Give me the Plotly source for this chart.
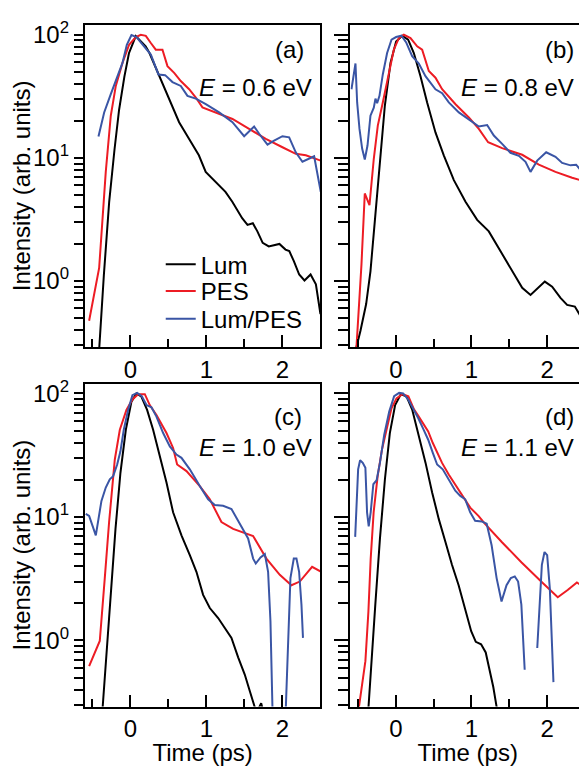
import plotly.graph_objects as go

# ---------------- data (time in ps, intensity arb. units) ----------------
# Panel (a)  E = 0.6 eV
a_lum_t = [-0.43, -0.41, -0.35, -0.28, -0.21, -0.15, -0.08, -0.02, 0.07, 0.20, 0.25, 0.38, 0.51, 0.64, 0.77,
           0.90, 0.99, 1.12, 1.25, 1.34, 1.47, 1.54, 1.61, 1.67, 1.74, 1.82, 1.96, 2.04, 2.09, 2.15, 2.22,
           2.29, 2.37, 2.44, 2.50]
a_lum_i = [0.2, 0.29, 1.12, 4.4, 11.7, 24.5, 45.7, 70.8, 97.7, 80.5, 71.1, 46.1, 30.0, 19.5, 14.3,
           10.5, 7.7, 6.4, 5.3, 4.4, 3.24, 2.86, 2.95, 2.53, 2.04, 1.91, 2.0, 1.80, 1.75, 1.45, 1.13,
           1.01, 1.13, 0.94, 0.54]
a_pes_t = [-0.544, -0.412, -0.325, -0.259, -0.193, -0.105, -0.018, 0.070, 0.136, 0.202, 0.268, 0.333, 0.421,
           0.487, 0.575, 0.662, 0.772, 0.860, 0.947, 1.123, 1.342, 1.561, 1.781, 2.0, 2.175, 2.307, 2.504]
a_pes_i = [0.476, 1.28, 7.7, 22.0, 38.4, 59.1, 83.0, 95.8, 100.0, 98.0, 85.7, 75.7, 75.7,
           55.6, 49.1, 42.1, 36.1, 30.9, 25.7, 23.4, 20.7, 17.2, 14.3, 12.2, 10.8, 10.5, 9.5]
a_rat_t = [-0.421, -0.346, -0.259, -0.171, -0.105, -0.048, 0.013, 0.079, 0.158, 0.268, 0.368, 0.456, 0.553,
           0.662, 0.750, 0.860, 0.991, 1.167, 1.342, 1.430, 1.496, 1.570, 1.627, 1.693, 1.803, 1.890, 2.0,
           2.088, 2.175, 2.263, 2.351, 2.417, 2.504]
a_rat_i = [14.9, 23.4, 32.9, 46.1, 59.1, 83.0, 99.4, 95.8, 83.0, 69.0, 47.6, 47.0, 41.3,
           38.4, 31.9, 30.3, 27.3, 23.4, 19.5, 16.6, 15.0, 16.6, 18.0, 15.7, 12.8, 13.8, 15.0,
           14.7, 11.1, 9.3, 9.8, 10.3, 5.3]

# Panel (b)  E = 0.8 eV
b_lum_t = [-0.533, -0.467, -0.392, -0.335, -0.278, -0.216, -0.145, -0.070, 0.004, 0.084, 0.163, 0.238, 0.326,
           0.414, 0.524, 0.634, 0.767, 0.921, 1.075, 1.229, 1.361, 1.515, 1.670, 1.780, 1.881, 1.969, 2.066,
           2.176, 2.264, 2.366, 2.441, 2.511]
b_lum_i = [0.27, 0.395, 0.65, 1.2, 3.04, 8.7, 26.5, 59.1, 88.3, 98.2, 91.2, 71.1, 46.1,
           28.2, 16.1, 10.5, 6.6, 4.4, 3.14, 2.53, 1.85, 1.28, 0.88, 0.77, 0.88, 0.99, 0.90,
           0.73, 0.64, 0.62, 0.52, 0.35]
b_pes_t = [-0.520, -0.454, -0.410, -0.348, -0.291, -0.238, -0.172, -0.093, -0.026, 0.040, 0.106, 0.194, 0.282,
           0.348, 0.436, 0.524, 0.612, 0.789, 0.965, 1.097, 1.220, 1.405, 1.670, 1.890, 2.110, 2.330, 2.511]
b_pes_i = [0.29, 1.36, 5.14, 4.14, 9.84, 18.3, 28.2, 49.1, 75.7, 94.0, 100.0, 94.0, 80.5,
           75.7, 50.7, 44.8, 36.1, 27.3, 21.3, 17.2, 13.4, 12.0, 10.6, 8.8, 7.7, 6.9, 6.4]
b_rat_t = [-0.586, -0.559, -0.533, -0.511, -0.480, -0.445, -0.410, -0.374, -0.335, -0.291, -0.269, -0.247,
           -0.216, -0.172, -0.115, -0.057, 0.004, 0.075, 0.137, 0.216, 0.304, 0.392, 0.524, 0.612, 0.700,
           0.833, 0.987, 1.097, 1.207, 1.295, 1.405, 1.515, 1.626, 1.714, 1.780, 1.868, 1.987, 2.110, 2.198,
           2.308, 2.383, 2.463, 2.511]
b_rat_i = [36.1, 44.8, 58.4, 28.2, 17.2, 11.9, 9.7, 12.6, 22.0, 25.6, 30.3, 27.8,
           31.9, 47.6, 71.1, 91.2, 95.8, 98.2, 86.7, 67.0, 58.4, 46.1, 36.1, 33.5, 28.2,
           23.4, 20.0, 18.0, 18.5, 15.2, 13.0, 11.0, 10.4, 9.3, 7.7, 9.5, 11.1, 10.2, 9.1,
           8.7, 8.8, 7.7, 6.2]

# Panel (c)  E = 1.0 eV
c_lum_t = [-0.382, -0.325, -0.263, -0.197, -0.132, -0.061, 0.013, 0.079, 0.145, 0.219, 0.298, 0.386, 0.474,
           0.561, 0.671, 0.781, 0.868, 0.956, 1.044, 1.154, 1.263, 1.329, 1.417, 1.504, 1.570, 1.614, 1.658,
           1.72, 1.80]
c_lum_i = [0.21, 0.64, 2.2, 8.0, 22.8, 50.8, 85.8, 100.0, 94.0, 73.5, 50.8, 31.0, 19.0,
           10.9, 7.1, 4.9, 3.6, 2.34, 1.83, 1.52, 1.19, 1.05, 0.73, 0.53, 0.39, 0.31, 0.26,
           0.31, 0.2]
c_pes_t = [-0.544, -0.404, -0.338, -0.281, -0.206, -0.140, -0.053, 0.026, 0.101, 0.189, 0.254, 0.342, 0.474,
           0.561, 0.614, 0.737, 0.912, 1.044, 1.197, 1.351, 1.614, 1.789, 1.965, 2.118, 2.228, 2.39, 2.51]
c_pes_i = [0.62, 0.99, 3.2, 9.1, 29.2, 50.8, 73.5, 89.5, 98.6, 98.6, 80.5, 67.0, 47.8,
           36.2, 26.6, 23.5, 17.8, 13.9, 9.1, 8.0, 7.0, 4.6, 3.4, 2.8, 3.0, 3.95, 3.6]
c_rat_t = [-0.588, -0.544, -0.500, -0.456, -0.421, -0.382, -0.325, -0.272, -0.228, -0.175, -0.132, -0.088,
           -0.031, 0.026, 0.088, 0.149, 0.211, 0.276, 0.342, 0.430, 0.518, 0.605, 0.671, 0.781, 0.912,
           1.022, 1.110, 1.219, 1.329, 1.439, 1.548, 1.614, 1.649, 1.711, 1.768, 1.811, 1.842, 1.868,
           1.886, 2.018, 2.044, 2.075, 2.105, 2.149, 2.184, 2.219, 2.25, 2.27]
c_rat_i = [10.6, 10.2, 8.5, 7.1, 9.6, 13.5, 17.3, 20.2, 21.4, 26.6, 34.0, 50.8,
           73.5, 96.9, 101.0, 95.0, 80.5, 77.2, 65.0, 47.8, 37.3, 32.0, 30.1, 24.3, 17.8,
           13.9, 12.5, 12.3, 11.6, 8.8, 6.7, 4.6, 4.2, 4.7, 5.0, 3.6, 1.43, 0.29,
           0.1, 0.1, 0.29, 1.05, 3.2, 4.6, 4.6, 3.6, 1.95, 1.05]

# Panel (d)  E = 1.1 eV
d_lum_t = [-0.376, -0.328, -0.271, -0.210, -0.144, -0.079, -0.009, 0.066, 0.140, 0.218, 0.306, 0.393, 0.480,
           0.568, 0.655, 0.742, 0.830, 0.917, 0.996, 1.057, 1.127, 1.188, 1.245, 1.288, 1.332, 1.354]
d_lum_i = [0.21, 0.64, 1.95, 6.65, 20.2, 47.8, 80.5, 98.6, 95.0, 73.5, 44.9, 27.4, 15.8,
           9.6, 6.3, 4.1, 2.8, 1.83, 1.19, 0.975, 0.93, 0.80, 0.57, 0.42, 0.29, 0.2]
d_pes_t = [-0.524, -0.489, -0.445, -0.402, -0.362, -0.332, -0.293, -0.240, -0.183, -0.122, -0.057, 0.009,
           0.087, 0.166, 0.240, 0.297, 0.362, 0.428, 0.489, 0.546, 0.611, 0.699, 0.808, 0.895, 0.983, 1.092,
           1.179, 1.397, 1.659, 1.921, 2.140, 2.271, 2.393, 2.493]
d_pes_i = [0.2, 0.29, 0.44, 0.68, 1.72, 4.6, 10.9, 21.4, 35.1, 52.4, 75.7, 91.2,
           98.6, 95.0, 74.3, 65.8, 57.4, 49.2, 39.7, 33.0, 27.4, 22.1, 17.3, 14.4, 11.9, 10.2,
           8.8, 6.3, 4.3, 3.0, 2.24, 2.56, 2.95, 2.68]
d_rat_t = [-0.537, -0.515, -0.498, -0.472, -0.437, -0.402, -0.380, -0.358, -0.332, -0.297, -0.253, -0.210,
           -0.153, -0.087, -0.022, 0.044, 0.096, 0.162, 0.227, 0.297, 0.358, 0.428, 0.489, 0.546, 0.620,
           0.699, 0.786, 0.852, 0.917, 0.983, 1.048, 1.135, 1.201, 1.266, 1.332, 1.397, 1.463, 1.520,
           1.572, 1.616, 1.659, 1.703, None, 1.869, 1.900, 1.930, 1.965, 2.0, 2.035, 2.061, 2.083]
d_rat_i = [6.9, 16.8, 24.3, 28.8, 27.4, 25.0, 10.9, 8.4, 10.9, 18.4, 19.9, 27.4,
           46.3, 71.3, 95.0, 101.0, 100.0, 89.5, 75.7, 63.0, 52.4, 42.2, 33.0, 26.6, 24.3,
           20.2, 16.3, 14.8, 13.9, 10.9, 9.3, 9.2, 8.8, 5.9, 3.2, 2.07, 2.8, 3.2,
           3.3, 3.0, 1.95, 0.58, None, 0.87, 1.95, 4.1, 5.2, 4.9, 2.64, 1.05, 0.46]

panel_labels = ["(a)", "(b)", "(c)", "(d)"]
energies = ["0.6", "0.8", "1.0", "1.1"]
series_names = ["Lum", "PES", "Lum/PES"]
x_ticks = [0, 1, 2]
y_ticks = [1, 10, 100]
y_ticktext = ["10<sup>0</sup>", "10<sup>1</sup>", "10<sup>2</sup>"]

# ---------------- styling ----------------
OFF = 8                      # page body margin of the browser
W, H = 587 - OFF, 766 - OFF  # figure size so that the page fills the window
FONT = "Arial, Liberation Sans, Helvetica, sans-serif"
FS = 24
colors = ["#000000", "#ED1C24", "#3A55A5"]


def fx(px):
    return (px - OFF) / W


def fy(py):
    return 1 - (py - OFF) / H


panels = [
    (a_lum_t, a_lum_i, a_pes_t, a_pes_i, a_rat_t, a_rat_i),
    (b_lum_t, b_lum_i, b_pes_t, b_pes_i, b_rat_t, b_rat_i),
    (c_lum_t, c_lum_i, c_pes_t, c_pes_i, c_rat_t, c_rat_i),
    (d_lum_t, d_lum_i, d_pes_t, d_pes_i, d_rat_t, d_rat_i),
]
# pixel boxes in window coordinates (left, right, top, bottom)
boxes = [(85, 321, 18, 343), (351, 586, 18, 343), (85, 321, 380, 706), (351, 586, 380, 706)]
label_pos = [(307, 43), (577, 43), (305, 413), (577, 413)]
e_pos = [(315, 81), (577, 81), (315, 445), (577, 445)]
legend_rows = [260, 287, 315]
legend_names = ["legend", "legend2", "legend3"]

fig = go.Figure()
layout = dict(width=W, height=H, margin=dict(l=0, r=0, t=0, b=0), autosize=False,
              paper_bgcolor="white", plot_bgcolor="white",
              font=dict(family=FONT, size=FS, color="black"), annotations=[])

minor_y = [v * 10 ** e for e in (-1, 0, 1) for v in range(2, 10)]
for k, (lt, li, pt, pi, rt, ri) in enumerate(panels):
    xa = "x" if k == 0 else f"x{k+1}"
    ya = "y" if k == 0 else f"y{k+1}"
    for j, (tt, ii) in enumerate([(lt, li), (pt, pi), (rt, ri)]):
        fig.add_trace(go.Scatter(x=tt, y=ii, mode="lines", name=series_names[j],
                                 line=dict(color=colors[j], width=2), xaxis=xa, yaxis=ya,
                                 showlegend=(k == 0), connectgaps=False,
                                 legend=legend_names[j]))
    l, r, t, b = boxes[k]
    left_col = k in (0, 2)
    bottom_row = k in (2, 3)
    xkey = "xaxis" if k == 0 else f"xaxis{k+1}"
    ykey = "yaxis" if k == 0 else f"yaxis{k+1}"
    xax = dict(domain=[fx(l), fx(r)], anchor=ya, range=[-0.6, 2.5],
               tickvals=x_ticks, ticks="inside", ticklen=12, tickwidth=1.5,
               tickcolor="black", showline=True, linecolor="black", linewidth=2,
               mirror=True, showgrid=False, zeroline=False,
               tickfont=dict(size=FS),
               minor=dict(tickvals=[-0.5, 0.5, 1.5, 2.5], ticks="inside", ticklen=8,
                          tickwidth=1.5, tickcolor="black", showgrid=False))
    if bottom_row:
        xax["title"] = dict(text="Time (ps)", font=dict(size=FS), standoff=4)
    yax = dict(domain=[fy(b), fy(t)], anchor=xa, type="log",
               range=[-0.535, 2.08], tickvals=y_ticks, ticktext=y_ticktext,
               showticklabels=left_col,
               ticks="outside", ticklen=9 if left_col else 14, tickwidth=1.5,
               tickcolor="black", showline=True, linecolor="black", linewidth=2,
               mirror=True, showgrid=False, zeroline=False,
               tickfont=dict(size=FS),
               minor=dict(tickvals=minor_y, ticks="outside", ticklen=9 if left_col else 10,
                          tickwidth=1.5, tickcolor="black", showgrid=False))
    if left_col:
        yax["title"] = dict(text="Intensity (arb. units)", font=dict(size=FS), standoff=4)
    layout[xkey] = xax
    layout[ykey] = yax
    layout["annotations"].append(dict(text=panel_labels[k], xref="paper", yref="paper",
                                      x=fx(label_pos[k][0]), y=fy(label_pos[k][1]),
                                      xanchor="right", yanchor="middle", showarrow=False,
                                      font=dict(size=FS)))
    layout["annotations"].append(dict(text=f"<i>E</i> = {energies[k]} eV", xref="paper",
                                      yref="paper", x=fx(e_pos[k][0]), y=fy(e_pos[k][1]),
                                      xanchor="right", yanchor="middle", showarrow=False,
                                      font=dict(size=FS)))

for name, row in zip(legend_names, legend_rows):
    layout[name] = dict(x=fx(161), y=fy(row), xanchor="left", yanchor="middle",
                        bgcolor="rgba(0,0,0,0)", font=dict(size=FS), itemwidth=30)
fig.update_layout(**layout)
fig.write_html("out.html")
